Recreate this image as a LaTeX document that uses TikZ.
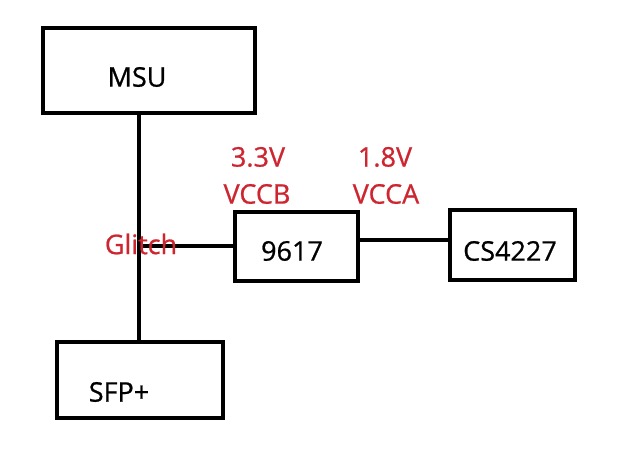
\documentclass[tikz,border=0pt]{standalone}
\usepackage{fontspec}
\setmainfont{Open Sans}
\newfontfamily\lblfont{Open Sans}[FakeBold=0.8]
\usepackage{tikz}
\usetikzlibrary{positioning}
\definecolor{alert}{RGB}{205, 38, 48}

\begin{document}
\begin{tikzpicture}[x=1pt, y=1pt,
    blk/.style={draw, line width=4.5pt, minimum width=#1, inner sep=0pt},
    lbl/.style={font=\lblfont\fontsize{27}{30}\selectfont, inner sep=0pt},
    red/.style={lbl, text=alert},
    wire/.style={line width=4.5pt}]
    \useasboundingbox (0,0) rectangle (639,449);

    % Blocks
    \node[blk=212pt, minimum height=85pt] (msu) at (149,378.5) {};
    \node[lbl] (msutxt) at (137,372) {MSU};
    \node[blk=166pt, minimum height=76pt] (sfp) at (140,69) {};
    \node[lbl] (sfptxt) at (119,57) {SFP+};
    \node[blk=123pt, minimum height=69pt] (lvl) at (296.5,202.5) {};
    \node[lbl] (lvltxt) at (292,198) {9617};
    \node[blk=125pt, minimum height=70pt] (phy) at (512.5,204) {};
    \node[lbl] (phytxt) at (510,198) {CS4227};

    % Wires
    \coordinate (top) at (139,449-115);
    \coordinate (bot) at (139,449-342);
    \coordinate (tap) at (139,203);
    \draw[wire] (top) -- (bot);
    \draw[wire] (tap) -- (tap -| lvl.west);
    \draw[wire] (lvl.east |- 0,209) -- (phy.west |- 0,209);

    % Supply notes
    \node[red] (vb) at (258,292) {3.3V};
    \node[red] (vbn) at (257,255) {VCCB};
    \node[red] (va) at (385,292) {1.8V};
    \node[red] (van) at (386,255) {VCCA};
    \node[red] (glitch) at (141,205) {Glitch};
\end{tikzpicture}
\end{document}
